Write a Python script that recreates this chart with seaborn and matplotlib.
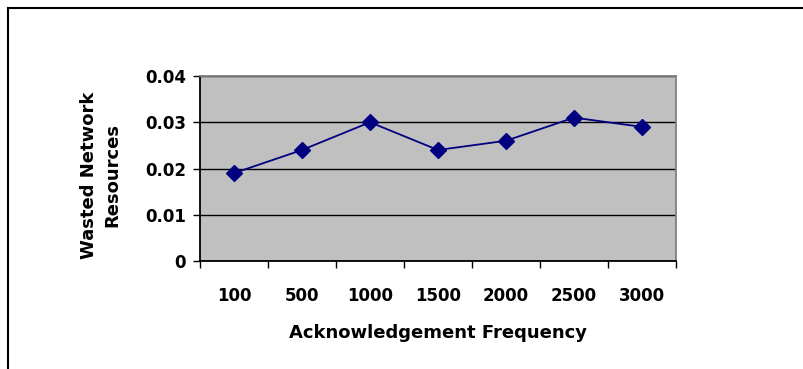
import numpy as np
import pandas as pd
import matplotlib.pyplot as plt
import seaborn as sns
from matplotlib.patches import Rectangle

freqs = ['100', '500', '1000', '1500', '2000', '2500', '3000']
wasted = [0.019, 0.024, 0.030, 0.024, 0.026, 0.031, 0.029]
yticks = [0, 0.01, 0.02, 0.03, 0.04]
ytick_labels = ['0', '0.01', '0.02', '0.03', '0.04']

d = pd.DataFrame({'freq': freqs, 'wasted': wasted})

sns.set_style('white')
plt.rcParams['font.family'] = ['DejaVu Sans']
plt.rcParams['font.weight'] = 'bold'
plt.rcParams['text.color'] = 'black'
plt.rcParams['axes.labelcolor'] = 'black'
plt.rcParams['xtick.color'] = 'black'
plt.rcParams['ytick.color'] = 'black'

fig = plt.figure(figsize=(8.04, 3.69), dpi=100)
ax = fig.add_axes([200 / 804, 1 - 261 / 369, 476 / 804, 185 / 369])
ax.set_facecolor('#C0C0C0')

sns.pointplot(data=d, x='freq', y='wasted', order=freqs, color='#000080',
              markers='D', linestyles='-', errorbar=None,
              markersize=8.5, linewidth=1.3, ax=ax)

ax.set_xlim(-0.5, len(freqs) - 0.5)
ax.set_ylim(0, 0.04)
ax.set_yticks(yticks)
ax.set_yticklabels(ytick_labels, fontsize=12, fontweight='bold')
ax.set_xticks(range(len(freqs)))
ax.set_xticklabels(freqs, fontsize=12, fontweight='bold')
ax.set_xticks(np.arange(-0.5, len(freqs), 1), minor=True)
ax.tick_params(axis='x', which='major', length=0, pad=19, bottom=True)
ax.tick_params(axis='x', which='minor', length=5, width=1, color='black',
               direction='out', bottom=True)
ax.tick_params(axis='y', length=5, width=1, color='black', direction='out',
               pad=5, left=True)

ax.yaxis.grid(True, color='black', lw=1)
ax.xaxis.grid(False)
ax.set_axisbelow(True)

for s in ['left', 'bottom']:
    ax.spines[s].set_color('black')
    ax.spines[s].set_linewidth(1.3)
for s in ['top', 'right']:
    ax.spines[s].set_color('#808080')
    ax.spines[s].set_linewidth(1.3)
    ax.spines[s].set_visible(True)

ax.set_xlabel('Acknowledgement Frequency', fontsize=13, fontweight='bold',
              va='center')
ax.xaxis.set_label_coords(0.5, -72 / 185)
ax.set_ylabel('Wasted Network\nResources', fontsize=13, fontweight='bold',
              va='center', linespacing=1.4)
ax.yaxis.set_label_coords(-99 / 476, 86 / 185)

fig.patches.append(Rectangle((8 / 804, -0.05), 1.0, 1 - 8 / 369 + 0.05,
                             transform=fig.transFigure, fill=False,
                             edgecolor='black', lw=1.5))

fig.savefig('out.png', dpi=100)
